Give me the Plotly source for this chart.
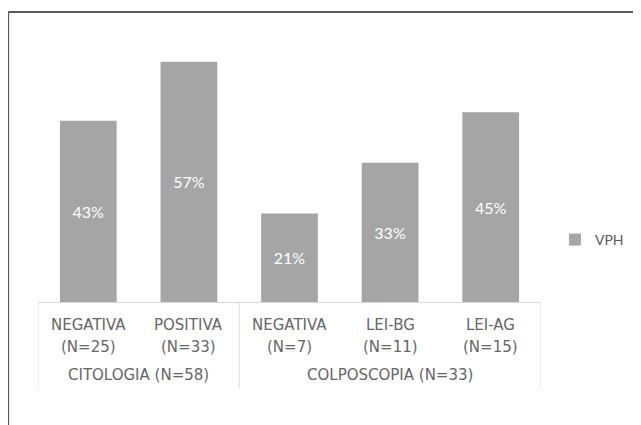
import plotly.graph_objects as go

categories = ["NEGATIVA", "POSITIVA", "NEGATIVA", "LEI-BG", "LEI-AG"]
n_values = [25, 33, 7, 11, 15]
groups = ["CITOLOGIA (N=58)", "COLPOSCOPIA (N=33)"]
group_sizes = [2, 3]
vph_pct = [43, 57, 21, 33, 45]
series_name = "VPH"

OFF = 8  # page body margin
W, H = 641 - OFF, 425 - OFF
PL, PR, PT, PB = 38, 543, 49, 302  # plot area in screen pixels
ML, MT = PL - OFF, PT - OFF
MR = W - (PR - OFF)
MB = H - (PB - OFF)
PW = PR - PL
PH = PB - PT

x_idx = list(range(len(categories)))

fig = go.Figure()
fig.add_trace(go.Bar(
    x=x_idx, y=vph_pct, name=series_name,
    marker=dict(color="#a5a5a5", line=dict(width=0)),
    texttemplate="%{y}%", textposition="inside", insidetextanchor="middle",
    textangle=0,
    textfont=dict(family="Lato", size=16, color="white"),
    showlegend=True,
))

label_font = dict(family="DejaVu Sans", size=15, color="#666666")
annotations = []
for i, (c, n) in enumerate(zip(categories, n_values)):
    annotations.append(dict(x=i, xref="x", y=0, yref="paper", yanchor="middle",
                            yshift=-23, text=c, showarrow=False, font=label_font))
    annotations.append(dict(x=i, xref="x", y=0, yref="paper", yanchor="middle",
                            yshift=-45, text=f"(N={n})", showarrow=False, font=label_font))

shapes = []
start = 0
bounds = [-0.5]
for g, s in zip(groups, group_sizes):
    center = start + (s - 1) / 2
    annotations.append(dict(x=center, xref="x", y=0, yref="paper", yanchor="middle",
                            yshift=-73, text=g, showarrow=False, font=label_font))
    start += s
    bounds.append(start - 0.5)

fx = lambda X: (X - PL) / PW
fy = lambda Y: (PB - Y) / PH

for b in bounds:
    shapes.append(dict(type="line", xref="x", yref="paper", x0=b, x1=b, y0=0, y1=fy(388),
                       line=dict(color="#d9d9d9", width=1)))

# outer frame (top and left edges visible)
shapes.append(dict(type="line", xref="paper", yref="paper", x0=fx(8), x1=fx(660), y0=fy(12), y1=fy(12),
                   line=dict(color="#5a5a5a", width=2)))
shapes.append(dict(type="line", xref="paper", yref="paper", x0=fx(8), x1=fx(8), y0=fy(12), y1=fy(440),
                   line=dict(color="#5a5a5a", width=2)))

fig.update_layout(
    width=W, height=H,
    margin=dict(l=ML, r=MR, t=MT, b=MB, pad=0),
    paper_bgcolor="white", plot_bgcolor="white",
    bargap=0.436,
    xaxis=dict(range=[-0.5, 4.5], showticklabels=False, showgrid=False, zeroline=False,
               showline=True, linecolor="#d9d9d9", linewidth=1, ticks=""),
    yaxis=dict(range=[0, 60], showticklabels=False, showgrid=False, zeroline=False,
               showline=False, ticks=""),
    legend=dict(x=fx(557), xanchor="left", y=fy(240), yanchor="middle",
                font=dict(family="Lato", size=14, color="#595959"),
                bgcolor="rgba(0,0,0,0)", borderwidth=0),
    annotations=annotations,
    shapes=shapes,
)

fig.write_html("out.html")
